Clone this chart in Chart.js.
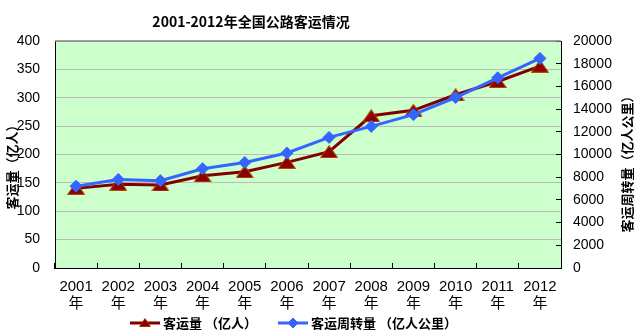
<!DOCTYPE html>
<html>
<head>
<meta charset="utf-8">
<script src="https://cdn.jsdelivr.net/npm/chart.js@4.4.4/dist/chart.umd.min.js"></script>
<style>
  html, body { margin: 0; padding: 0; background: #fff; }
  #wrap { width: 637px; height: 332px; }
</style>
</head>
<body>
<div id="wrap"><canvas id="road-chart" width="637" height="332"></canvas></div>
<script>
// Road passenger transport, 2001-2012
const years = ['2001', '2002', '2003', '2004', '2005', '2006', '2007', '2008', '2009', '2010', '2011', '2012'];
const passengers = [140.3, 147.5, 146.4, 162.5, 169.7, 186.1, 205.1, 268.2, 277.9, 305.3, 328.6, 355.7]; // 亿人
const turnover = [7207, 7806, 7696, 8748, 9292, 10131, 11507, 12476, 13511, 15021, 16760, 18468]; // 亿人公里

const titleText = '2001-2012年全国公路客运情况';
const leftTitle = '客运量（亿人）';
const rightTitle = '客运周转量（亿人公里）';
const legendNames = ['客运量 （亿人）', '客运周转量 （亿人公里）'];

const RED = '#800000';
const BLUE = '#3366FF';
const CJK = "'Noto Sans CJK SC', sans-serif";
const LATIN = "Arial, 'Liberation Sans', 'Noto Sans CJK SC', sans-serif";

// flat triangle marker (Chart.js' own triangle is too tall)
function triangleMarker(w, h, fill, stroke) {
  const c = document.createElement('canvas');
  c.width = w; c.height = h;
  const g = c.getContext('2d');
  g.beginPath();
  g.moveTo(w / 2, 0.5);
  g.lineTo(w - 0.5, h - 0.5);
  g.lineTo(0.5, h - 0.5);
  g.closePath();
  g.fillStyle = fill;
  g.fill();
  g.strokeStyle = stroke;
  g.lineWidth = 1;
  g.stroke();
  return c;
}
const triangle = triangleMarker(18, 13, '#8B0000', '#B04A00');

function rotatedText(ctx, text, x, y) {
  ctx.save();
  ctx.fillStyle = '#000';
  ctx.textAlign = 'center';
  ctx.textBaseline = 'middle';
  ctx.font = 'bold 13px ' + CJK;
  ctx.translate(x, y);
  ctx.rotate(-Math.PI / 2);
  ctx.fillText(text, 0, 0);
  ctx.restore();
}

const decorations = {
  id: 'decorations',
  beforeDraw(chart) {
    const { ctx, chartArea: a } = chart;
    ctx.save();
    ctx.fillStyle = '#CCFFCC';
    ctx.fillRect(a.left, a.top, a.right - a.left, a.bottom - a.top);
    ctx.restore();
  },
  afterDraw(chart) {
    const { ctx, chartArea: a } = chart;
    ctx.save();
    // top edge of the plot frame
    ctx.strokeStyle = '#808080';
    ctx.lineWidth = 1.5;
    ctx.beginPath();
    ctx.moveTo(a.left, a.top);
    ctx.lineTo(a.right, a.top);
    ctx.stroke();

    ctx.fillStyle = '#000';
    ctx.textAlign = 'center';
    ctx.textBaseline = 'middle';
    ctx.font = 'bold 14px ' + CJK;
    ctx.fillText(titleText, 251, 22);
    ctx.restore();

    rotatedText(ctx, leftTitle, 12, 164);
    rotatedText(ctx, rightTitle, 627, 161);

    // legend: line with marker, then the series name
    const items = [
      { x: 130, color: RED, style: triangle, name: legendNames[0] },
      { x: 278, color: BLUE, style: 'rectRot', radius: 5, name: legendNames[1] },
    ];
    const y = 323;
    items.forEach((it) => {
      ctx.save();
      ctx.strokeStyle = it.color;
      ctx.lineWidth = 3;
      ctx.beginPath();
      ctx.moveTo(it.x, y);
      ctx.lineTo(it.x + 30, y);
      ctx.stroke();
      ctx.fillStyle = it.color;
      ctx.strokeStyle = it.color;
      ctx.lineWidth = 1;
      if (it.style === triangle) {
        ctx.drawImage(triangle, it.x + 15 - 6, y - 5, 12, 9);
      } else {
        Chart.helpers.drawPoint(ctx, { pointStyle: it.style, radius: it.radius, borderWidth: 1 }, it.x + 15, y);
      }
      ctx.fillStyle = '#000';
      ctx.font = 'bold 13px ' + CJK;
      ctx.textAlign = 'left';
      ctx.textBaseline = 'middle';
      ctx.fillText(it.name, it.x + 33, y);
      ctx.restore();
    });
  },
};

new Chart(document.getElementById('road-chart'), {
  type: 'line',
  data: {
    labels: years.map((y) => [y, '年']),
    datasets: [
      {
        label: legendNames[0],
        data: passengers,
        yAxisID: 'y',
        borderColor: RED,
        borderWidth: 3,
        pointStyle: triangle,
        pointRadius: 8,
        tension: 0,
        order: 2,
      },
      {
        label: legendNames[1],
        data: turnover,
        yAxisID: 'y2',
        borderColor: BLUE,
        backgroundColor: BLUE,
        borderWidth: 3,
        pointStyle: 'rectRot',
        pointRadius: 6,
        pointBorderWidth: 1,
        tension: 0,
        order: 1,
      },
    ],
  },
  options: {
    responsive: false,
    animation: false,
    layout: { padding: { top: 41, left: 0, right: 0, bottom: 0 } },
    plugins: {
      legend: { display: false },
      title: { display: false },
      tooltip: { enabled: false },
    },
    scales: {
      x: {
        offset: true,
        afterFit: (s) => { s.height = 64; },
        grid: { drawOnChartArea: false, drawTicks: true, tickLength: -5, color: '#000', offset: true },
        border: { color: '#000', width: 1 },
        ticks: {
          color: '#000',
          padding: 15,
          maxRotation: 0,
          autoSkip: false,
          font: { family: LATIN, size: 15, lineHeight: 1.15 },
        },
      },
      y: {
        position: 'left',
        min: 0,
        max: 400,
        afterFit: (s) => { s.width = 55; },
        grid: { color: '#BBBBBB', drawTicks: false },
        border: { color: '#000', width: 1 },
        ticks: { stepSize: 50, padding: 15, color: '#000', font: { family: LATIN, size: 14 } },
      },
      y2: {
        position: 'right',
        min: 0,
        max: 20000,
        afterFit: (s) => { s.width = 76; },
        grid: { drawOnChartArea: false, drawTicks: true, tickLength: -5, color: '#000' },
        border: { color: '#000', width: 1 },
        ticks: {
          stepSize: 2000,
          padding: 17,
          color: '#000',
          font: { family: LATIN, size: 14 },
          callback: (v) => String(v),
        },
      },
    },
  },
  plugins: [decorations],
});
</script>
</body>
</html>
